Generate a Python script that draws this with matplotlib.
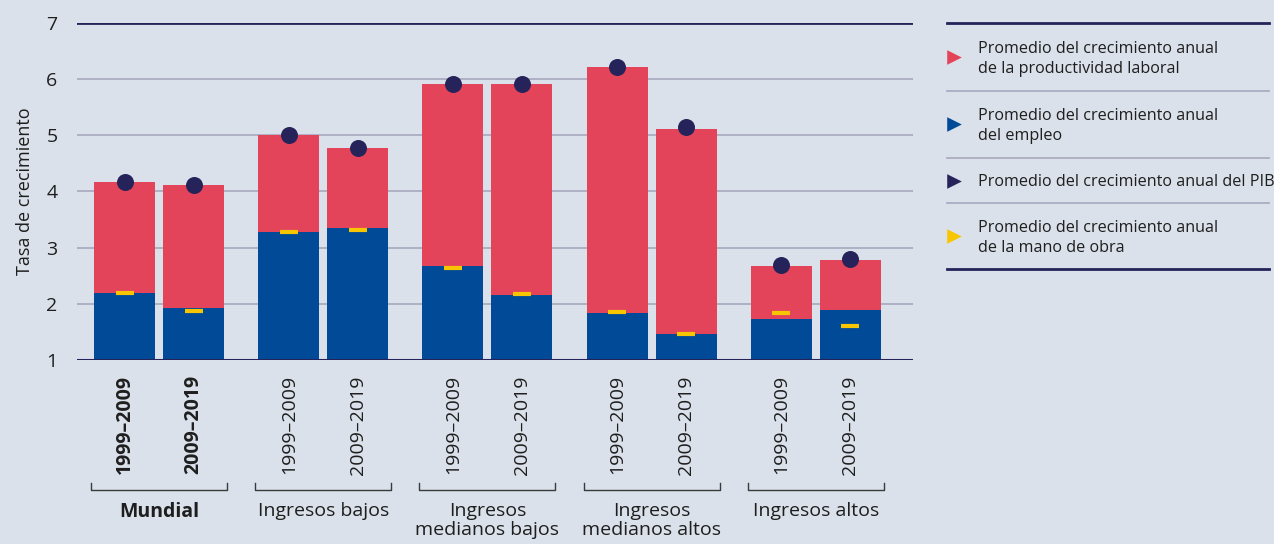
import matplotlib
matplotlib.use("Agg")
import matplotlib.pyplot as plt
import matplotlib.transforms as mtransforms
import numpy as np

plt.rcParams['font.family'] = ['Open Sans', 'Noto Sans', 'DejaVu Sans']

# Data
groups = ["Mundial", "Ingresos bajos", "Ingresos\nmedianos bajos",
          "Ingresos\nmedianos altos", "Ingresos altos"]
periods = ["1999–2009", "2009–2019"]
empleo = [2.19, 1.93, 3.28, 3.35, 2.67, 2.16, 1.84, 1.47, 1.73, 1.89]
productividad_top = [4.17, 4.12, 5.00, 4.77, 5.91, 5.91, 6.22, 5.11, 2.67, 2.78]
pib = [4.17, 4.12, 5.00, 4.78, 5.91, 5.91, 6.22, 5.14, 2.69, 2.79]
mano_obra = [2.20, 1.87, 3.28, 3.32, 2.63, 2.18, 1.85, 1.46, 1.83, 1.60]
legend_labels = [
    "Promedio del crecimiento anual\nde la productividad laboral",
    "Promedio del crecimiento anual\ndel empleo",
    "Promedio del crecimiento anual del PIB",
    "Promedio del crecimiento anual\nde la mano de obra",
]
yticks = [1, 2, 3, 4, 5, 6, 7]

BG = "#dae1ea"
RED = "#e4445a"
BLUE = "#004a98"
NAVY = "#26235a"
YELLOW = "#f7c600"
GRID = "#a9a8be"
TXT = "#1e1e1e"

W, H = 1274, 544
fig = plt.figure(figsize=(W / 100, H / 100), dpi=100, facecolor=BG)
ax = fig.add_axes([77 / W, (H - 360) / H, 836 / W, 337 / H], facecolor=BG)

group_step = 2.38
offsets = [-0.5, 0.5]
x = np.array([g * group_step + o for g in range(len(groups)) for o in offsets])
bw = 0.884
base = 1.0

emp = np.array(empleo)
prod = np.array(productividad_top) - emp
ax.bar(x, emp - base, bottom=base, width=bw, color=BLUE, zorder=3)
ax.bar(x, prod, bottom=emp, width=bw, color=RED, zorder=3)
ax.hlines(mano_obra, x - 0.13, x + 0.13, color=YELLOW, lw=3, zorder=4)
ax.scatter(x, pib, s=150, color=NAVY, zorder=5, linewidths=0)

ax.set_ylim(1, 7)
ax.set_xlim(-1.19, 10.93)
ax.set_yticks(yticks)
ax.set_yticklabels([str(v) for v in yticks], fontsize=14, color=TXT)
for v in yticks[1:-1]:
    ax.axhline(v, color=GRID, lw=1.2, zorder=1)
ax.axhline(7, color=NAVY, lw=2, zorder=2)
ax.axhline(1, color=NAVY, lw=2.2, zorder=6)
for s in ax.spines.values():
    s.set_visible(False)
ax.tick_params(axis='y', length=0, pad=14)
ax.tick_params(axis='x', length=0, pad=11)

ax.set_xticks(x)
ax.set_xticklabels(periods * len(groups), rotation=90, fontsize=14, color=TXT,
                   va='top')
for i, lab in enumerate(ax.get_xticklabels()):
    if i < 2:
        lab.set_fontweight('bold')

ax.set_ylabel("Tasa de crecimiento", fontsize=13, color=TXT)
ax.yaxis.set_label_coords(-0.052, 0.5)

# Group brackets and labels
trans = mtransforms.blended_transform_factory(ax.transData, ax.transAxes)
yb, yt = -0.386, -0.365
for g, name in enumerate(groups):
    c = g * group_step
    l, r = c - 0.985, c + 0.985
    ax.plot([l, l, r, r], [yt, yb, yb, yt], color="#3a3a3a", lw=1,
            transform=trans, clip_on=False)
    ax.text(c, -0.42, name, transform=trans, ha='center', va='top',
            fontsize=14, color=TXT, linespacing=1.12,
            fontweight='bold' if g == 0 else 'normal')

# Legend panel drawn in figure pixel space
lg = fig.add_axes([0, 0, 1, 1], facecolor='none')
lg.set_xlim(0, W)
lg.set_ylim(H, 0)
lg.axis('off')
lines_y = [23, 90.5, 157.5, 203, 269]
for i, yy in enumerate(lines_y):
    dark = i in (0, len(lines_y) - 1)
    lg.plot([947, 1269], [yy, yy], color=NAVY if dark else GRID,
            lw=2 if dark else 1.2)
tri_y = [57, 124, 181, 236]
text_y = [59, 126, 182, 238]
for c, ty, yy, lab in zip([RED, BLUE, NAVY, YELLOW], tri_y, text_y, legend_labels):
    lg.scatter([954], [ty], marker='>', s=110, color=c, linewidths=0)
    lg.text(978, yy, lab, ha='left', va='center', fontsize=11.6, color=TXT,
            linespacing=1.4)

fig.savefig("out.png", dpi=100, facecolor=BG)
